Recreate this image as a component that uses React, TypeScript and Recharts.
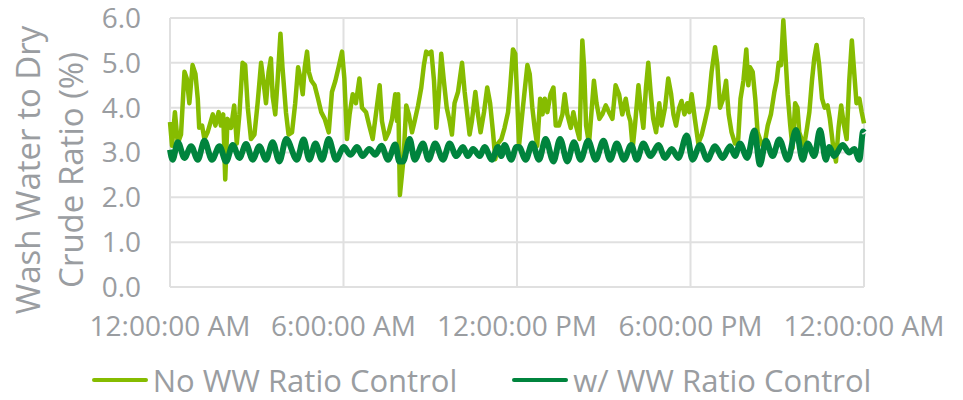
import React from 'react';
import { LineChart, Line, XAxis, YAxis, CartesianGrid, Legend } from 'recharts';

// hours since midnight, ratio (%)
const noControl: [number, number][] = [
  [0.0, 3.68], [0.07, 3.15], [0.17, 3.9], [0.27, 3.2], [0.38, 3.4], [0.5, 4.8], [0.58, 4.65], [0.67, 4.1],
  [0.78, 4.95], [0.88, 4.75], [0.96, 4.2], [1.01, 3.55], [1.11, 3.6], [1.19, 3.3], [1.3, 3.45], [1.48, 3.85],
  [1.57, 3.6], [1.68, 3.9], [1.76, 3.6], [1.84, 3.85], [1.91, 2.4], [1.99, 3.75], [2.11, 3.55], [2.22, 4.05],
  [2.31, 3.2], [2.4, 3.85], [2.51, 5.0], [2.6, 4.95], [2.69, 4.0], [2.8, 3.3], [2.92, 3.4], [3.03, 4.1],
  [3.15, 5.0], [3.23, 4.6], [3.32, 4.1], [3.41, 4.8], [3.49, 5.1], [3.55, 4.25], [3.64, 3.85], [3.72, 4.6],
  [3.82, 5.65], [3.89, 4.9], [3.95, 4.4], [4.01, 3.9], [4.1, 3.4], [4.22, 3.45], [4.33, 4.1], [4.43, 4.9],
  [4.51, 4.65], [4.59, 4.3], [4.66, 4.9], [4.74, 5.25], [4.8, 4.8], [4.89, 4.6], [5.0, 4.5], [5.12, 4.2],
  [5.23, 3.9], [5.35, 3.75], [5.49, 3.45], [5.6, 4.35], [5.72, 4.6], [5.83, 4.9], [5.95, 5.25], [6.03, 4.65],
  [6.12, 3.3], [6.21, 3.85], [6.32, 4.3], [6.43, 4.1], [6.55, 4.65], [6.64, 4.0], [6.78, 3.9], [6.89, 3.6],
  [7.01, 3.3], [7.16, 4.05], [7.25, 4.5], [7.33, 3.7], [7.45, 3.3], [7.56, 3.45], [7.68, 3.75], [7.79, 4.3],
  [7.85, 3.7], [7.89, 4.3], [7.95, 2.05], [8.02, 2.5], [8.08, 2.9], [8.17, 4.05], [8.26, 3.85], [8.37, 3.45],
  [8.46, 3.7], [8.58, 4.05], [8.69, 4.45], [8.78, 4.95], [8.86, 5.25], [8.94, 5.2], [9.04, 5.25], [9.13, 4.6],
  [9.21, 3.55], [9.29, 4.2], [9.38, 5.2], [9.47, 4.6], [9.57, 4.0], [9.67, 3.7], [9.75, 3.4], [9.84, 4.1],
  [9.96, 4.35], [10.1, 5.0], [10.19, 4.35], [10.28, 3.85], [10.36, 3.4], [10.44, 3.7], [10.56, 4.35], [10.65, 3.85],
  [10.74, 3.45], [10.86, 3.9], [10.97, 4.45], [11.07, 4.1], [11.17, 3.45], [11.25, 2.85], [11.34, 3.2], [11.46, 3.3],
  [11.57, 3.55], [11.69, 3.9], [11.77, 4.5], [11.86, 5.3], [11.94, 5.2], [12.0, 4.3], [12.07, 3.15], [12.18, 3.85],
  [12.26, 4.35], [12.36, 4.95], [12.44, 4.75], [12.53, 4.0], [12.61, 3.55], [12.7, 3.15], [12.8, 4.2], [12.88, 3.85],
  [12.96, 4.2], [13.05, 3.9], [13.16, 4.3], [13.26, 4.45], [13.34, 3.6], [13.45, 3.6], [13.57, 3.85], [13.65, 4.3],
  [13.74, 3.85], [13.86, 3.55], [13.95, 3.9], [14.04, 3.6], [14.16, 3.3], [14.26, 5.5], [14.32, 4.9], [14.39, 3.6],
  [14.49, 3.2], [14.57, 3.85], [14.66, 4.6], [14.75, 4.1], [14.85, 3.75], [14.95, 3.85], [15.07, 4.05], [15.18, 3.9],
  [15.3, 3.75], [15.41, 4.5], [15.53, 4.3], [15.64, 3.85], [15.76, 4.2], [15.85, 3.85], [15.92, 3.7], [16.0, 3.1],
  [16.08, 3.6], [16.2, 4.5], [16.28, 4.0], [16.37, 3.55], [16.46, 4.45], [16.54, 5.0], [16.62, 4.35], [16.71, 3.75],
  [16.81, 3.45], [16.92, 4.1], [17.0, 3.6], [17.12, 4.0], [17.23, 4.65], [17.33, 4.3], [17.41, 3.85], [17.5, 3.6],
  [17.61, 4.0], [17.69, 4.15], [17.79, 3.85], [17.89, 4.1], [17.96, 3.9], [18.04, 4.3], [18.15, 3.75], [18.27, 3.2],
  [18.39, 3.4], [18.5, 3.7], [18.62, 4.05], [18.73, 4.8], [18.85, 5.35], [18.93, 4.95], [19.02, 4.0], [19.13, 4.2],
  [19.23, 4.6], [19.32, 3.85], [19.42, 3.45], [19.54, 3.2], [19.65, 3.3], [19.73, 4.2], [19.83, 4.6], [19.93, 5.3],
  [20.0, 4.5], [20.06, 4.9], [20.15, 4.8], [20.24, 4.2], [20.32, 3.45], [20.4, 3.3], [20.49, 3.15], [20.59, 3.3],
  [20.67, 3.6], [20.78, 3.85], [20.9, 4.35], [20.98, 4.6], [21.05, 5.0], [21.13, 4.95], [21.21, 5.95], [21.28, 5.2],
  [21.36, 4.3], [21.45, 3.6], [21.53, 3.1], [21.62, 4.1], [21.7, 4.0], [21.76, 3.45], [21.84, 3.3], [21.93, 3.15],
  [22.03, 3.55], [22.11, 3.9], [22.2, 4.6], [22.28, 5.1], [22.36, 5.4], [22.45, 4.95], [22.55, 4.2], [22.64, 4.0],
  [22.74, 4.05], [22.82, 3.75], [22.94, 3.1], [23.03, 2.8], [23.12, 3.55], [23.21, 4.05], [23.31, 3.6], [23.4, 3.3],
  [23.49, 4.6], [23.58, 5.5], [23.66, 4.8], [23.74, 4.1], [23.84, 4.2], [23.92, 3.9], [24.0, 3.65],
];

const withControl: [number, number][] = [
  [0.0, 3.06], [0.09, 2.84], [0.27, 3.23], [0.5, 2.88], [0.73, 3.14], [0.96, 2.84], [1.19, 3.26], [1.45, 2.84],
  [1.71, 3.14], [1.94, 2.8], [2.17, 3.17], [2.4, 2.88], [2.63, 3.19], [2.86, 2.84], [3.09, 3.14], [3.32, 2.84],
  [3.55, 3.23], [3.78, 2.8], [4.02, 3.3], [4.39, 2.84], [4.62, 3.29], [4.82, 2.84], [5.03, 3.2], [5.26, 2.84],
  [5.49, 3.3], [5.74, 2.84], [6.01, 3.12], [6.24, 2.95], [6.47, 3.12], [6.66, 2.92], [6.89, 3.08], [7.1, 2.95],
  [7.31, 3.15], [7.54, 2.84], [7.79, 3.18], [7.93, 2.8], [8.06, 2.8], [8.29, 3.3], [8.46, 2.84], [8.75, 3.2],
  [8.94, 2.84], [9.17, 3.2], [9.44, 2.84], [9.67, 3.2], [9.9, 2.92], [10.13, 3.12], [10.3, 2.92], [10.48, 3.08],
  [10.71, 2.92], [10.88, 3.12], [11.13, 2.84], [11.34, 3.12], [11.46, 2.92], [11.57, 3.17], [11.8, 2.84], [11.98, 3.12],
  [12.07, 3.12], [12.3, 2.84], [12.53, 3.2], [12.76, 2.84], [12.99, 3.3], [13.26, 2.8], [13.49, 3.3], [13.74, 2.8],
  [13.97, 3.23], [14.2, 2.84], [14.46, 3.26], [14.72, 2.84], [14.99, 3.26], [15.22, 2.84], [15.45, 3.2], [15.7, 2.84],
  [15.95, 3.17], [16.14, 2.84], [16.37, 3.2], [16.62, 2.92], [16.89, 3.17], [17.12, 2.88], [17.35, 3.08], [17.58, 2.88],
  [17.87, 3.38], [18.07, 2.84], [18.33, 3.17], [18.58, 2.84], [18.85, 3.14], [19.11, 2.88], [19.37, 3.14], [19.54, 2.92],
  [19.71, 3.2], [19.96, 2.88], [20.21, 3.49], [20.4, 2.73], [20.61, 3.26], [20.84, 2.92], [21.07, 3.29], [21.36, 2.84],
  [21.65, 3.5], [21.88, 2.84], [22.05, 3.2], [22.28, 2.92], [22.48, 3.5], [22.68, 2.84], [22.8, 3.12], [22.97, 2.92],
  [23.26, 3.17], [23.49, 3.0], [23.66, 3.08], [23.84, 2.84], [23.97, 3.47], [24.0, 3.45],
];

const hourTicks = [0, 6, 12, 18, 24];
const hourLabels = ['12:00:00 AM', '6:00:00 AM', '12:00:00 PM', '6:00:00 PM', '12:00:00 AM'];
const ratioTicks = [0, 1, 2, 3, 4, 5, 6];
const seriesNames = ['No WW Ratio Control', 'w/ WW Ratio Control'];
const seriesColors = ['#86bc00', '#00843d'];

const noControlData = noControl.map(([h, v]) => ({ h, v }));
const withControlData = withControl.map(([h, v]) => ({ h, v }));

const FONT = '"Open Sans", sans-serif';
const GRAY = '#9a9da1';

function YTitle() {
  return (
    <g fill={GRAY} fontFamily={FONT} fontSize={33}>
      <text transform="translate(27,170) rotate(-90)" textAnchor="middle" dominantBaseline="central">
        Wash Water to Dry
      </text>
      <text transform="translate(70,170) rotate(-90)" textAnchor="middle" dominantBaseline="central">
        Crude Ratio (%)
      </text>
    </g>
  );
}

function LegendBox() {
  return (
    <div
      style={{
        display: 'flex',
        justifyContent: 'center',
        alignItems: 'center',
        width: 963,
        height: 40,
        lineHeight: '40px',
        fontFamily: FONT,
        whiteSpace: 'nowrap',
      }}
    >
      {seriesNames.map((name, i) => (
        <div key={name} style={{ display: 'flex', alignItems: 'center', marginLeft: i ? 55 : 0 }}>
          <span style={{ width: 56, height: 4, background: seriesColors[i], borderRadius: 2, marginRight: 5 }} />
          <span style={{ color: GRAY, fontSize: 31 }}>{name}</span>
        </div>
      ))}
    </div>
  );
}

export default function App() {
  return (
    <div style={{ position: 'absolute', left: 0, top: 0, width: 963, height: 400, background: '#fff' }}>
      <LineChart width={963} height={400} margin={{ top: 18, right: 99, bottom: 0, left: 0 }}>
        <CartesianGrid stroke="#e0e0e0" strokeWidth={2} />
        <XAxis
          type="number"
          dataKey="h"
          domain={[0, 24]}
          ticks={hourTicks}
          interval={0}
          tickFormatter={(v: number) => hourLabels[hourTicks.indexOf(v)]}
          axisLine={false}
          tickLine={false}
          tickSize={0}
          tickMargin={29}
          height={73}
          tick={{ fill: GRAY, fontSize: 28, fontFamily: FONT }}
        />
        <YAxis
          domain={[0, 6]}
          ticks={ratioTicks}
          interval={0}
          tickFormatter={(v: number) => v.toFixed(1)}
          axisLine={false}
          tickLine={false}
          tickSize={0}
          tickMargin={29}
          width={170}
          tick={{ fill: GRAY, fontSize: 28, fontFamily: FONT }}
          label={{ content: () => <YTitle /> }}
        />
        <Legend
          verticalAlign="bottom"
          wrapperStyle={{ left: 0, width: 963 }}
          content={() => <LegendBox />}
        />
        <Line
          data={noControlData}
          dataKey="v"
          name={seriesNames[0]}
          stroke={seriesColors[0]}
          strokeWidth={4.5}
          strokeLinejoin="round"
          dot={false}
          isAnimationActive={false}
        />
        <Line
          data={withControlData}
          dataKey="v"
          name={seriesNames[1]}
          type="monotone"
          stroke={seriesColors[1]}
          strokeWidth={6}
          dot={false}
          isAnimationActive={false}
        />
      </LineChart>
    </div>
  );
}
